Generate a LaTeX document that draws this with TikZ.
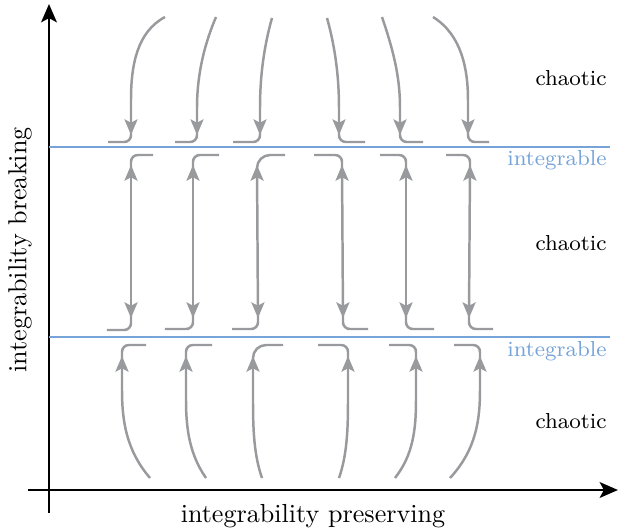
\documentclass[tikz,border=0pt]{standalone}
\usepackage{xcolor}
\usepackage{tikz}
\usetikzlibrary{arrows.meta}
\definecolor{flowgray}{RGB}{152,154,157}
\definecolor{lineblue}{RGB}{118,163,216}
\tikzstyle{axis} = [line width=1pt,-{Stealth[length=7pt,width=6pt,inset=1.6pt]}]
\tikzstyle{flow} = [flowgray,line width=0.95pt,-{Stealth[length=6pt,width=5pt,inset=1.3pt]}]
\tikzstyle{flowboth} = [flowgray,line width=0.95pt,{Stealth[length=6pt,width=5pt,inset=1.3pt]}-{Stealth[length=6pt,width=5pt,inset=1.3pt]}]
\tikzstyle{hook} = [flowgray,line width=0.95pt,rounded corners=2.6pt]
\tikzstyle{sep} = [lineblue,line width=0.8pt]
\tikzstyle{region} = [font=\fontsize{8.3}{10}\selectfont,anchor=east,inner sep=0pt]

\begin{document}
\begin{tikzpicture}[x=0.383pt,y=-0.383pt]
            \useasboundingbox (0,0) rectangle (618,529);
            % axes
            \coordinate (origin) at (49,490);
            \coordinate (xend) at (618,490);
            \coordinate (yend) at (49,4);
            \draw [axis] (28,490) -- (xend);
            \draw [axis] (49,513) -- (yend);
            \node (xlabel) at (313,516) {integrability preserving};
            \node[rotate=90] (ylabel) at (20,250) {integrability breaking};
            % integrable lines
            \draw [sep] (49,147) -- (610,147);
            \draw [sep] (49,337) -- (610,337);
            \node[region,lineblue] (int1) at (607,160) {integrable};
            \node[region,lineblue] (int2) at (607,351) {integrable};
            \node[region] (chaos1) at (607,78) {chaotic};
            \node[region] (chaos2) at (607,243) {chaotic};
            \node[region] (chaos3) at (607,421) {chaotic};
            % upper band
            \draw [flow] (165,17) .. controls (137,32) and (131,65) .. (131,100) -- (131,135);
            \draw [hook] (131,126) -- (131,142) -- (108,142);
            \draw [flow] (216,17) .. controls (202,50) and (197,80) .. (197,108) -- (197,135);
            \draw [hook] (197,126) -- (197,142) -- (175,142);
            \draw [flow] (272,18) .. controls (263,50) and (260,80) .. (260,108) -- (260,135);
            \draw [hook] (260,126) -- (260,142) -- (233,142);
            \draw [flow] (327,18) .. controls (336,50) and (339,80) .. (339,108) -- (339,135);
            \draw [hook] (339,126) -- (339,142) -- (365,142);
            \draw [flow] (382,17) .. controls (395,55) and (400,80) .. (400,108) -- (400,135);
            \draw [hook] (400,126) -- (400,142) -- (423,142);
            \draw [flow] (433,17) .. controls (462,35) and (468,70) .. (468,100) -- (468,135);
            \draw [hook] (468,126) -- (468,142) -- (489,142);
            % middle band
            \draw [hook] (153,155) -- (131,155) -- (131,172);
            \draw [flowboth] (131,165) -- (131,318);
            \draw [hook] (131,312) -- (131,330) -- (107,330);
            \draw [hook] (219,155) -- (193,155) -- (193,172);
            \draw [flowboth] (193,165) -- (193,318);
            \draw [hook] (193,312) -- (193,329) -- (165,329);
            \draw [hook,rounded corners=5pt] (285,155) -- (257,155) -- (257,174);
            \draw [flowboth] (257,165) -- (258,318);
            \draw [hook] (258,312) -- (258,329) -- (232,329);
            \draw [hook] (314,155) -- (342,155) -- (342,172);
            \draw [flowboth] (342,165) -- (343,318);
            \draw [hook] (343,312) -- (343,329) -- (368,329);
            \draw [hook] (380,155) -- (406,155) -- (406,172);
            \draw [flowboth] (406,165) -- (406,318);
            \draw [hook] (406,312) -- (406,329) -- (434,329);
            \draw [hook] (446,155) -- (470,155) -- (470,172);
            \draw [flowboth] (470,165) -- (469,318);
            \draw [hook] (469,312) -- (469,329) -- (493,329);
            % lower band
            \draw [flow] (150,478) .. controls (126,450) and (122,420) .. (122,390) -- (122,356);
            \draw [hook] (122,364) -- (122,345) -- (146,345);
            \draw [flow] (206,478) .. controls (190,455) and (186,430) .. (186,400) -- (186,356);
            \draw [hook] (186,364) -- (186,345) -- (212,345);
            \draw [flow] (262,478) .. controls (254,455) and (253,430) .. (253,400) -- (253,356);
            \draw [hook,rounded corners=5pt] (253,364) -- (253,345) -- (283,345);
            \draw [flow] (339,478) .. controls (347,455) and (348,430) .. (348,400) -- (348,356);
            \draw [hook] (348,364) -- (348,345) -- (318,345);
            \draw [flow] (395,478) .. controls (413,455) and (416,430) .. (416,400) -- (416,356);
            \draw [hook] (416,364) -- (416,345) -- (389,345);
            \draw [flow] (450,478) .. controls (476,450) and (480,420) .. (480,390) -- (480,356);
            \draw [hook] (480,364) -- (480,345) -- (454,345);
        \end{tikzpicture}
\end{document}
